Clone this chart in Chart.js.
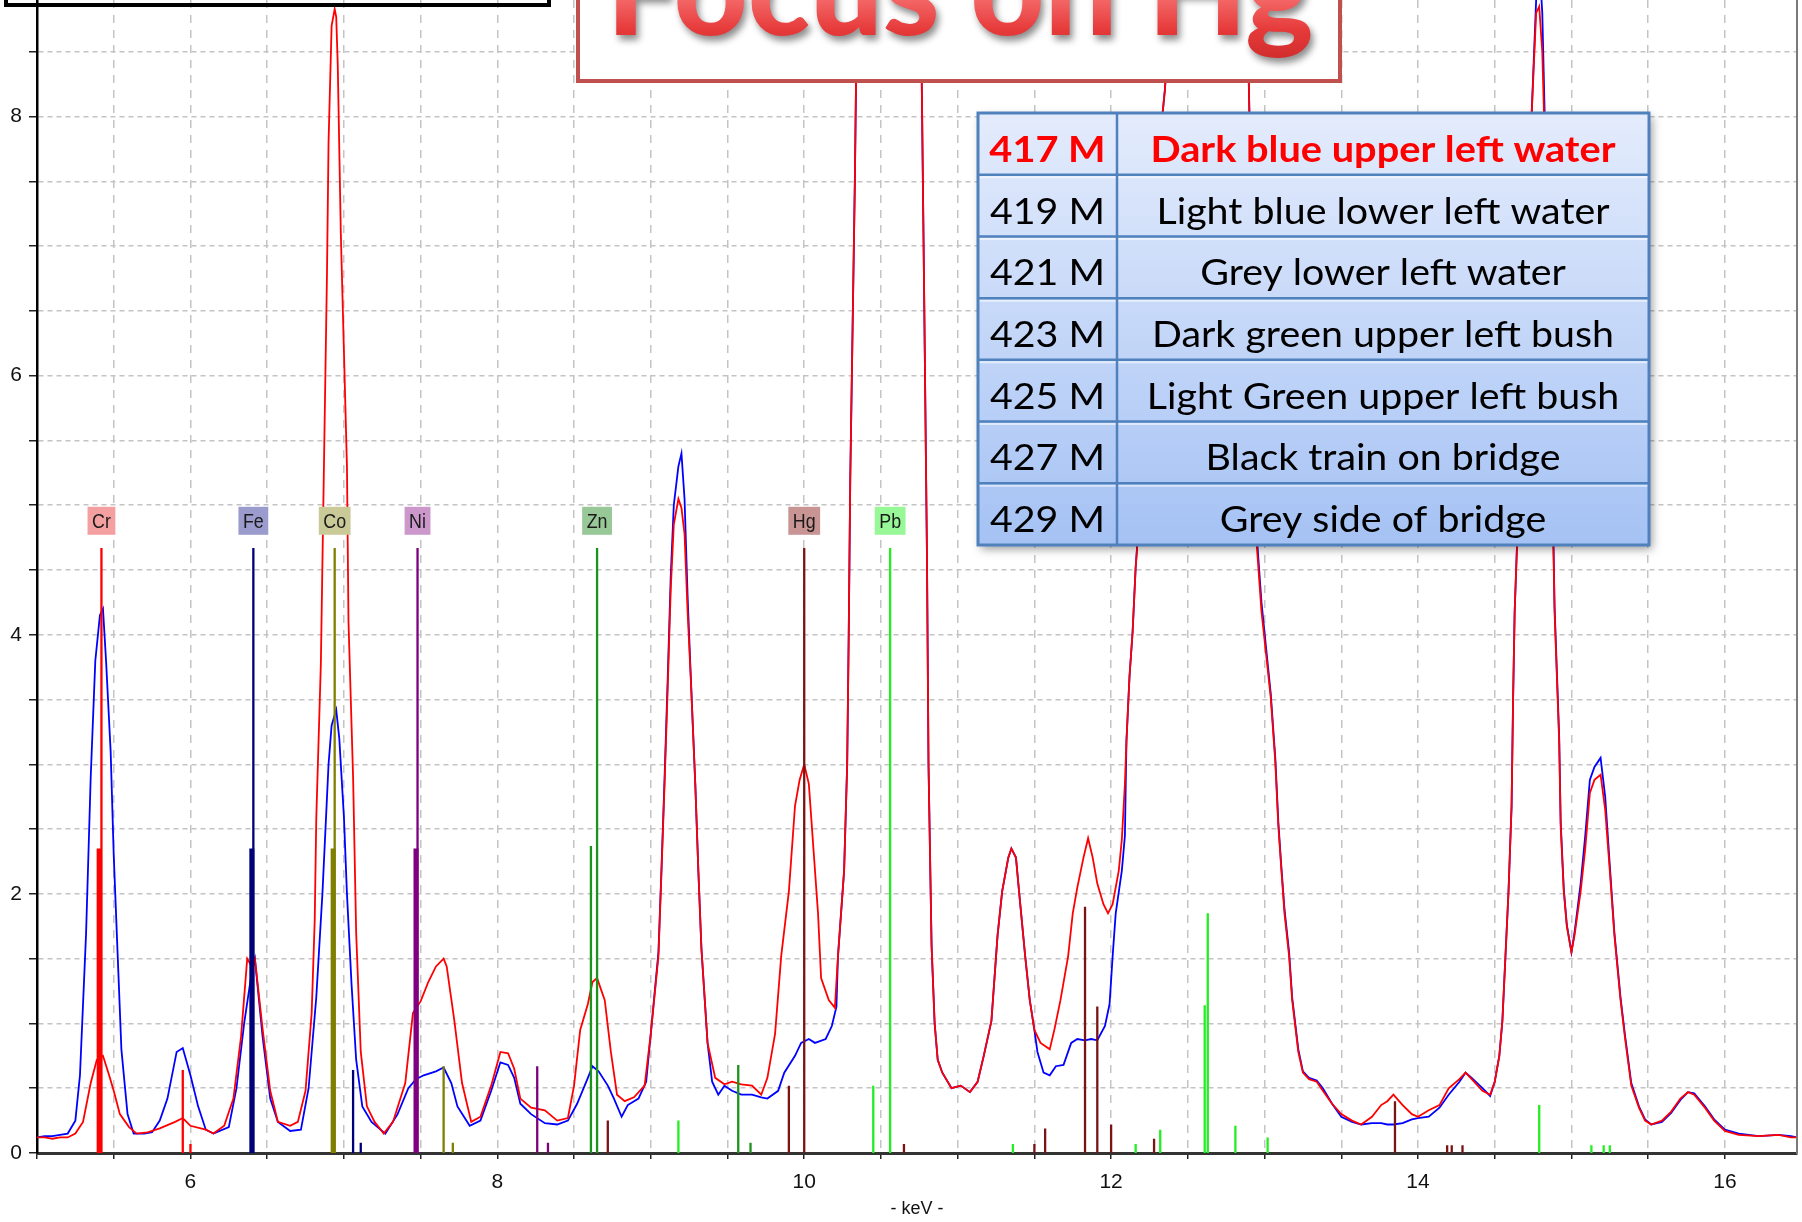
<!DOCTYPE html>
<html><head><meta charset="utf-8">
<script src="https://cdn.jsdelivr.net/npm/chart.js@4.4.1/dist/chart.umd.min.js"></script>
<style>html,body{margin:0;padding:0;background:#fff;overflow:hidden}canvas{display:block}</style>
</head><body>
<canvas id="c" width="1802" height="1222"></canvas>
<script>
// ---------- DATA ----------
const redKeV = [
5.00,5.05,5.10,5.15,5.20,5.25,5.30,5.35,5.39,5.43,
5.47,5.50,5.54,5.60,5.65,5.72,5.80,5.90,5.95,6.00,
6.10,6.15,6.22,6.28,6.33,6.37,6.40,6.42,6.47,6.52,
6.57,6.65,6.70,6.75,6.79,6.81,6.82,6.85,6.87,6.89,
6.90,6.92,6.94,6.95,6.96,6.98,7.00,7.02,7.03,7.06,
7.08,7.11,7.15,7.20,7.26,7.32,7.40,7.45,7.50,7.55,
7.60,7.65,7.67,7.72,7.77,7.83,7.89,7.96,8.02,8.07,
8.11,8.15,8.22,8.31,8.39,8.46,8.50,8.54,8.59,8.62,
8.65,8.70,8.74,8.78,8.83,8.89,8.96,9.00,9.05,9.07,
9.09,9.11,9.13,9.15,9.18,9.20,9.22,9.24,9.26,9.29,
9.31,9.33,9.37,9.42,9.48,9.53,9.59,9.66,9.72,9.76,
9.81,9.85,9.90,9.94,9.97,10.00,10.03,10.06,10.09,10.11,
10.16,10.20,10.22,10.26,10.28,10.29,10.30,10.33,10.35,10.45,
10.55,10.65,10.74,10.76,10.78,10.80,10.81,10.83,10.85,10.87,
10.90,10.96,11.02,11.08,11.13,11.17,11.22,11.24,11.26,11.29,
11.33,11.35,11.38,11.40,11.44,11.47,11.50,11.54,11.60,11.63,
11.67,11.72,11.75,11.78,11.82,11.85,11.88,11.91,11.95,11.98,
12.01,12.05,12.07,12.09,12.10,12.12,12.14,12.16,12.18,12.20,
12.25,12.30,12.35,12.39,12.45,12.55,12.70,12.82,12.88,12.91,
12.93,12.95,12.98,13.01,13.04,13.07,13.09,13.11,13.13,13.16,
13.18,13.20,13.22,13.25,13.29,13.34,13.38,13.44,13.50,13.57,
13.63,13.70,13.76,13.80,13.84,13.90,13.96,14.00,14.07,14.14,
14.20,14.27,14.31,14.35,14.42,14.47,14.50,14.53,14.55,14.57,
14.59,14.61,14.62,14.63,14.66,14.70,14.74,14.77,14.79,14.81,
14.84,14.86,14.88,14.89,14.92,14.93,14.95,14.97,15.00,15.02,
15.06,15.09,15.12,15.15,15.19,15.22,15.25,15.28,15.32,15.35,
15.39,15.44,15.48,15.52,15.59,15.65,15.71,15.76,15.80,15.87,
15.93,16.00,16.09,16.22,16.35,16.43,16.47];
const redCounts = [
0.12,0.12,0.11,0.12,0.12,0.15,0.24,0.54,0.72,0.75,
0.60,0.48,0.30,0.20,0.15,0.16,0.19,0.24,0.27,0.21,
0.18,0.15,0.21,0.42,0.90,1.50,1.44,1.50,0.96,0.48,
0.24,0.21,0.24,0.48,1.08,1.80,2.58,3.78,5.30,6.80,
7.80,8.70,8.83,8.77,8.40,7.10,6.20,5.30,4.10,2.90,
1.70,0.78,0.36,0.24,0.15,0.24,0.54,1.08,1.17,1.32,
1.44,1.50,1.44,1.02,0.54,0.24,0.28,0.52,0.78,0.77,
0.65,0.42,0.35,0.33,0.25,0.27,0.52,0.95,1.15,1.32,
1.35,1.18,0.78,0.45,0.40,0.43,0.52,0.92,1.52,2.18,
2.85,3.58,4.35,4.85,5.05,4.98,4.78,4.18,3.68,2.85,
2.18,1.58,0.85,0.58,0.53,0.55,0.53,0.52,0.45,0.58,
0.92,1.52,2.02,2.68,2.88,3.00,2.85,2.35,1.85,1.35,
1.18,1.12,1.52,2.18,3.00,4.00,5.20,7.50,9.50,12.5,
13.5,12.5,9.80,8.90,6.80,4.60,3.00,1.60,1.00,0.72,
0.62,0.50,0.52,0.47,0.55,0.75,1.02,1.35,1.68,2.02,
2.28,2.35,2.28,2.02,1.52,1.18,0.95,0.85,0.80,0.95,
1.18,1.52,1.85,2.05,2.28,2.43,2.28,2.08,1.92,1.85,
1.92,2.18,2.42,2.85,3.18,3.68,4.02,4.52,4.85,6.10,
7.00,7.60,8.20,8.90,11.0,13.0,13.5,11.0,9.30,7.50,
6.00,4.68,4.18,3.85,3.52,3.02,2.52,2.18,1.85,1.52,
1.18,0.98,0.78,0.62,0.57,0.55,0.48,0.38,0.30,0.25,
0.22,0.28,0.37,0.40,0.45,0.37,0.30,0.28,0.33,0.37,
0.50,0.57,0.62,0.57,0.48,0.45,0.55,0.75,1.02,1.52,
2.02,2.68,3.52,4.18,5.18,6.60,8.00,8.80,8.85,8.50,
7.20,6.00,4.85,4.18,3.18,2.52,2.02,1.75,1.55,1.68,
2.02,2.35,2.78,2.88,2.92,2.65,2.18,1.68,1.18,0.88,
0.52,0.35,0.25,0.22,0.25,0.32,0.42,0.47,0.45,0.35,
0.25,0.17,0.14,0.13,0.14,0.12,0.12];

const blueKeV = [
5.00,5.05,5.10,5.15,5.20,5.25,5.28,5.32,5.35,5.38,
5.41,5.43,5.45,5.48,5.50,5.53,5.55,5.59,5.63,5.70,
5.75,5.80,5.85,5.91,5.95,6.00,6.05,6.10,6.15,6.25,
6.30,6.35,6.40,6.42,6.47,6.52,6.57,6.65,6.72,6.77,
6.82,6.86,6.90,6.92,6.95,6.97,7.00,7.02,7.05,7.08,
7.12,7.18,7.27,7.35,7.42,7.47,7.52,7.60,7.65,7.70,
7.74,7.82,7.89,7.96,8.02,8.07,8.11,8.15,8.22,8.31,
8.39,8.46,8.52,8.59,8.62,8.66,8.72,8.76,8.81,8.85,
8.92,8.97,9.00,9.05,9.07,9.09,9.11,9.13,9.15,9.18,
9.20,9.22,9.24,9.26,9.29,9.31,9.33,9.37,9.40,9.44,
9.48,9.53,9.59,9.66,9.72,9.76,9.83,9.87,9.94,9.98,
10.03,10.07,10.14,10.18,10.21,10.22,10.26,10.28,10.29,10.30,
10.33,10.35,10.45,10.55,10.65,10.74,10.76,10.78,10.80,10.81,
10.83,10.85,10.87,10.90,10.96,11.02,11.08,11.13,11.17,11.22,
11.24,11.26,11.29,11.33,11.35,11.38,11.40,11.44,11.47,11.50,
11.52,11.56,11.60,11.64,11.69,11.74,11.78,11.83,11.87,11.91,
11.96,11.99,12.01,12.03,12.07,12.09,12.10,12.12,12.14,12.16,
12.18,12.20,12.25,12.30,12.35,12.39,12.45,12.55,12.70,12.82,
12.88,12.91,12.93,12.95,12.98,13.01,13.04,13.07,13.09,13.11,
13.13,13.16,13.18,13.20,13.22,13.25,13.29,13.34,13.38,13.44,
13.50,13.57,13.63,13.70,13.76,13.80,13.84,13.90,13.96,14.00,
14.07,14.14,14.20,14.27,14.31,14.35,14.42,14.47,14.50,14.53,
14.55,14.57,14.59,14.61,14.62,14.63,14.66,14.70,14.74,14.77,
14.79,14.81,14.84,14.86,14.88,14.89,14.92,14.93,14.95,14.97,
15.00,15.02,15.06,15.09,15.12,15.15,15.19,15.22,15.25,15.28,
15.32,15.35,15.39,15.44,15.48,15.52,15.59,15.65,15.71,15.76,
15.80,15.87,15.93,16.00,16.09,16.22,16.35,16.43,16.47];
const blueCounts = [
0.12,0.13,0.13,0.14,0.15,0.25,0.60,1.70,2.90,3.80,
4.15,4.20,3.80,3.10,2.30,1.40,0.80,0.30,0.15,0.15,
0.16,0.25,0.42,0.78,0.81,0.60,0.36,0.18,0.15,0.20,
0.50,1.00,1.40,1.50,0.90,0.42,0.24,0.17,0.18,0.50,
1.20,2.00,3.00,3.30,3.42,3.20,2.60,2.00,1.30,0.72,
0.36,0.24,0.15,0.30,0.50,0.57,0.60,0.63,0.66,0.54,
0.36,0.21,0.25,0.48,0.70,0.68,0.58,0.38,0.30,0.23,
0.22,0.25,0.38,0.58,0.67,0.63,0.52,0.42,0.28,0.37,
0.42,0.55,0.92,1.55,2.20,2.90,3.65,4.45,5.00,5.30,
5.40,5.05,4.30,3.70,2.85,2.18,1.58,0.85,0.55,0.45,
0.52,0.48,0.45,0.45,0.43,0.42,0.48,0.62,0.75,0.85,
0.88,0.85,0.88,0.98,1.13,1.52,2.18,3.00,4.00,5.20,
7.50,9.50,12.5,13.5,12.5,9.80,8.90,6.80,4.60,3.00,
1.60,1.00,0.72,0.62,0.50,0.52,0.47,0.55,0.75,1.02,
1.35,1.68,2.02,2.28,2.35,2.28,2.02,1.52,1.18,0.95,
0.78,0.62,0.60,0.67,0.68,0.85,0.88,0.87,0.88,0.87,
0.98,1.15,1.52,1.85,2.18,2.45,3.18,3.68,4.02,4.52,
4.85,6.10,7.00,7.60,8.20,8.90,11.0,13.0,13.5,11.0,
9.30,7.50,6.00,4.75,4.25,3.90,3.55,3.05,2.55,2.20,
1.88,1.55,1.20,1.00,0.80,0.63,0.58,0.56,0.50,0.38,
0.28,0.24,0.22,0.23,0.23,0.22,0.22,0.23,0.26,0.27,
0.28,0.35,0.45,0.55,0.62,0.58,0.50,0.44,0.55,0.75,
1.02,1.52,2.02,2.68,3.52,4.18,5.18,6.60,8.00,8.90,
9.20,8.80,7.30,6.10,4.90,4.22,3.22,2.55,2.04,1.76,
1.55,1.70,2.08,2.45,2.88,2.98,3.05,2.75,2.22,1.70,
1.20,0.90,0.54,0.36,0.26,0.22,0.24,0.31,0.41,0.47,
0.46,0.36,0.26,0.18,0.15,0.13,0.14,0.13,0.12];

const elementNames = ['Cr','Fe','Co','Ni','Zn','Hg','Pb'];
const elementKeV   = [5.42, 6.41, 6.94, 7.48, 8.65, 10.00, 10.56];
const elementLineTop = 4.67;
const elementLabelValue = 4.88;
const alphaElement = ['Cr','Fe','Co','Ni'];
const alphaKeV     = [5.405, 6.40, 6.93, 7.47];
const alphaTop     = [2.35, 2.35, 2.35, 2.35];
const minorElement = ['Cr','Cr','Fe','Fe','Co','Co','Ni','Ni','Zn','Zn','Zn',
  'Hg','Hg','Hg','Hg','Hg','Hg','Hg','Hg','Hg','Hg','Hg','Hg','Hg',
  'Pb','Pb','Pb','Pb','Pb','Pb','Pb','Pb','Pb','Pb','Pb','Pb','Pb'];
const minorKeV = [5.95,6.00,7.06,7.11,7.65,7.71,8.26,8.33,8.61,9.57,9.65,
  8.72,9.90,10.65,11.50,11.57,11.83,11.91,12.00,12.28,13.85,14.19,14.22,14.29,
  9.18,10.45,11.36,12.16,12.32,12.61,12.63,12.81,13.02,14.79,15.13,15.21,15.25];
const minorTop = [0.64,0.07,0.64,0.08,0.67,0.08,0.67,0.08,2.37,0.68,0.08,
  0.25,0.52,0.07,0.07,0.19,1.90,1.13,0.22,0.11,0.40,0.06,0.06,0.06,
  0.25,0.52,0.07,0.07,0.18,1.14,1.85,0.21,0.12,0.37,0.06,0.06,0.06];

const yLabelValues = [0,2,4,6,8];
const xLabelValues = [6,8,10,12,14,16];
const xAxisTitle = '- keV -';
const titleText = 'Focus on Hg';
const legendIds = ['417 M','419 M','421 M','423 M','425 M','427 M','429 M'];
const legendNames = ['Dark blue upper left water','Light blue lower left water','Grey lower left water',
  'Dark green upper left bush','Light Green upper left bush','Black train on bridge','Grey side of bridge'];

// ---------- STYLE ----------
const lineColor = {Cr:'#ff0000',Fe:'#00007a',Co:'#7f7f00',Ni:'#7f007f',Zn:'#1c931c',Hg:'#7a1414',Pb:'#22ee22'};
const boxColor  = {Cr:'#f5a0a0',Fe:'#9b9bcd',Co:'#caca98',Ni:'#cc98cc',Zn:'#98c898',Hg:'#c99494',Pb:'#98f898'};
const NARROW = "'Liberation Sans Narrow','Liberation Sans',Arial,sans-serif";

function segs(xs, tops){const d=[];xs.forEach((x,i)=>{d.push({x:x,y:0},{x:x,y:tops[i]},{x:x,y:null});});return d;}

const datasets = [];
elementNames.forEach((el,ei)=>{
  const xs=[elementKeV[ei]], ts=[elementLineTop];
  minorElement.forEach((m,i)=>{ if(m===el){xs.push(minorKeV[i]);ts.push(minorTop[i]);} });
  datasets.push({data:segs(xs,ts),borderColor:lineColor[el],borderWidth:2.3,pointRadius:0,spanGaps:false,order:0,borderCapStyle:'butt'});
  const ax=[],at=[];
  alphaElement.forEach((a,i)=>{ if(a===el){ax.push(alphaKeV[i]);at.push(alphaTop[i]);} });
  if(ax.length) datasets.push({data:segs(ax,at),borderColor:lineColor[el],borderWidth:5,pointRadius:0,spanGaps:false,order:0,borderCapStyle:'butt'});
});
datasets.push({data:redKeV.map((k,i)=>({x:k,y:redCounts[i]})),borderColor:'#ff0000',borderWidth:1.8,pointRadius:0,order:1,tension:0});
datasets.push({data:blueKeV.map((k,i)=>({x:k,y:blueCounts[i]})),borderColor:'#0000ff',borderWidth:1.8,pointRadius:0,order:2,tension:0});

function scaledText(ctx,text,cx,base,font,sx,color){
  ctx.save();ctx.font=font;ctx.translate(cx,base);ctx.scale(sx,1);
  ctx.textAlign='center';ctx.textBaseline='alphabetic';ctx.fillStyle=color;ctx.fillText(text,0,0);ctx.restore();
}

const overlay = {
  id:'overlay',
  afterDraw(chart){
    const {ctx,chartArea:ca,scales:{x,y}} = chart;
    ctx.save();
    // right border
    ctx.strokeStyle='#7a7a7a';ctx.lineWidth=2;
    ctx.beginPath();ctx.moveTo(ca.right,ca.top);ctx.lineTo(ca.right,ca.bottom+1);ctx.stroke();
    // element labels
    const ly = y.getPixelForValue(elementLabelValue);
    elementNames.forEach((el,i)=>{
      const px = x.getPixelForValue(elementKeV[i]);
      ctx.font='21px '+NARROW;
      const w = ctx.measureText(el).width*0.85+9;
      ctx.fillStyle=boxColor[el];
      ctx.fillRect(px-w/2,ly-14,w,28);
      scaledText(ctx,el,px,ly+7.5,'21px '+NARROW,0.85,'#1a1a1a');
    });
    // black box top-left
    ctx.strokeStyle='#000';ctx.lineWidth=4;
    ctx.strokeRect(6,-30,543,35);
    // title box
    ctx.fillStyle='#fff';ctx.fillRect(578,-20,762,101);
    ctx.strokeStyle='#c0504d';ctx.lineWidth=4;ctx.strokeRect(578,-20,762,101);
    ctx.save();
    ctx.font="900 128px Lato";
    const tw=ctx.measureText(titleText).width;
    const g=ctx.createLinearGradient(0,-60,0,62);
    g.addColorStop(0,'#ff8a8a');g.addColorStop(0.45,'#e63a3a');g.addColorStop(1,'#b51a1a');
    ctx.shadowColor='rgba(0,0,0,0.45)';ctx.shadowBlur=7;ctx.shadowOffsetX=3;ctx.shadowOffsetY=5;
    scaledText(ctx,titleText,960,35,"900 128px Lato",707/tw,g);
    ctx.restore();
    // legend table
    const L={x:978,y:113,w:671,h:432}, rows=legendIds.length, rh=L.h/rows, colX=1117;
    ctx.save();
    ctx.shadowColor='rgba(0,0,0,0.4)';ctx.shadowBlur=9;ctx.shadowOffsetX=3;ctx.shadowOffsetY=4;
    const lg=ctx.createLinearGradient(0,L.y,0,L.y+L.h);
    lg.addColorStop(0,'#e4ecfc');lg.addColorStop(1,'#a5c2f4');
    ctx.fillStyle=lg;ctx.fillRect(L.x,L.y,L.w,L.h);
    ctx.restore();
    // row highlight lines
    for(let r=1;r<rows;r++){
      const yy=L.y+r*rh;
      ctx.strokeStyle='rgba(255,255,255,0.55)';ctx.lineWidth=2;
      ctx.beginPath();ctx.moveTo(L.x,yy+2.5);ctx.lineTo(L.x+L.w,yy+2.5);ctx.stroke();
      ctx.strokeStyle='#4f81bd';ctx.lineWidth=2.5;
      ctx.beginPath();ctx.moveTo(L.x,yy);ctx.lineTo(L.x+L.w,yy);ctx.stroke();
    }
    ctx.strokeStyle='#4f81bd';ctx.lineWidth=2.5;
    ctx.beginPath();ctx.moveTo(colX,L.y);ctx.lineTo(colX,L.y+L.h);ctx.stroke();
    ctx.lineWidth=3;ctx.strokeRect(L.x,L.y,L.w,L.h);
    ctx.font="bold 37px Lato";
    const kb=465/ctx.measureText(legendNames[0]).width;
    ctx.font="37px Lato";
    const kr=453/ctx.measureText(legendNames[1]).width;
    for(let r=0;r<rows;r++){
      const cy=L.y+r*rh+rh/2+18;
      const bold=r===0;
      const f=(bold?'bold ':'')+'37px Lato';
      const col=bold?'#ff0000':'#000';
      const k=bold?kb:kr;
      scaledText(ctx,legendIds[r],(L.x+colX)/2,cy,f,k,col);
      scaledText(ctx,legendNames[r],(colX+L.x+L.w)/2,cy,f,k,col);
    }
    ctx.restore();
  }
};

new Chart(document.getElementById('c'),{
  type:'line',
  data:{datasets:datasets},
  options:{
    responsive:false,animation:false,devicePixelRatio:1,
    layout:{padding:{left:0,right:5,top:0,bottom:0}},
    plugins:{legend:{display:false},tooltip:{enabled:false}},
    scales:{
      x:{type:'linear',min:5,max:16.47,
        afterFit(s){s.height=69;s.paddingLeft=0;s.paddingRight=0;},
        ticks:{stepSize:0.5,includeBounds:false,autoSkip:false,maxRotation:0,
          callback:v=>xLabelValues.includes(v)?String(v):'',
          font:{family:NARROW,size:21},color:'#111',padding:11},
        grid:{color:'#c4c4c4',lineWidth:1.5,tickColor:'#222',tickLength:6,tickWidth:1.5},
        border:{color:'#333',width:3,dash:[8,7]},
        title:{display:true,text:xAxisTitle,font:{family:NARROW,size:18},color:'#111',padding:{top:0,bottom:2}}
      },
      y:{min:0,max:8.9,
        afterFit(s){s.width=37;s.paddingTop=0;s.paddingBottom=0;},
        ticks:{stepSize:0.5,includeBounds:false,autoSkip:false,
          callback:v=>yLabelValues.includes(v)?String(v):'',
          font:{family:NARROW,size:21},color:'#111',padding:7},
        grid:{color:'#c4c4c4',lineWidth:1.5,tickColor:'#222',tickLength:8,tickWidth:1.5},
        border:{color:'#000',width:2.5,dash:[5,4]}
      }
    }
  },
  plugins:[overlay]
});
</script>
</body></html>
